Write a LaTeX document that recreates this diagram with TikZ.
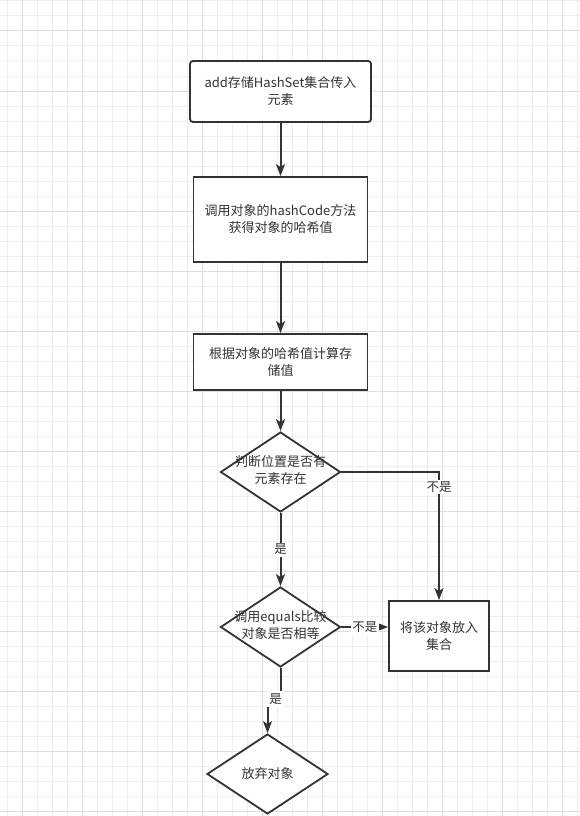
\documentclass[tikz,border=0pt]{standalone}
\usepackage{fontspec}
\setmainfont{Noto Sans CJK SC}
\usetikzlibrary{arrows.meta}
\usetikzlibrary{shapes.geometric}
\usetikzlibrary{calc}

\begin{document}
\begin{tikzpicture}[x=1pt,y=-1pt]
      \definecolor{mygridlight}{HTML}{EFEFEF}
      \definecolor{mygriddark}{HTML}{DEDEDE}
      \definecolor{myline}{HTML}{333333}
      \colorlet{mytext}{black!80}
      \tikzset{>={Stealth[length=12pt,width=9pt,inset=3pt]}} % draw.io like arrow head

      \tikzset{
        box/.style={draw=myline,line width=1.8pt,fill=white,align=center,text=mytext,
          font=\fontsize{13}{17}\selectfont,inner sep=0pt},
        diam/.style={box,diamond,minimum width=120pt,minimum height=80pt},
        flow/.style={->,myline,line width=2pt},
        lbl/.style={fill=white,inner sep=1.5pt,text=mytext,font=\fontsize{12.5}{14}\selectfont}
      }

      % text of a diamond takes no width, so the diamond keeps its size
      \def\dtext#1{\makebox[0pt]{\begin{tabular}{@{}c@{}}#1\end{tabular}}}

      \useasboundingbox (0,0) rectangle (580,816);
      \fill[white] (0,0) rectangle (580,816);

      % GRID
      \foreach \x in {7,22,...,577}
        \draw[mygridlight,line width=1pt] (\x,0) -- (\x,816);
      \foreach \y in {1,16,...,811}
        \draw[mygridlight,line width=1pt] (0,\y) -- (580,\y);
      \foreach \x in {22,82,...,562}
        \draw[mygriddark,line width=1pt] (\x,0) -- (\x,816);
      \foreach \y in {31,91,...,811}
        \draw[mygriddark,line width=1pt] (0,\y) -- (580,\y);

      % STEPS
      \node[box,rounded corners=3pt,minimum width=181pt,minimum height=61pt] (add) at (280.5,91.5)
        {add存储HashSet集合传入\\元素};
      \node[box,minimum width=174pt,minimum height=85pt] (hash) at (280.5,219.5)
        {调用对象的hashCode方法\\获得对象的哈希值};
      \node[box,minimum width=174pt,minimum height=56pt] (calc) at (280.5,362)
        {根据对象的哈希值计算存\\储值};
      \node[diam] (check) at (280.5,472) {\dtext{判断位置是否有\\元素存在}};
      \node[diam] (equal) at (280.5,627) {\dtext{调用equals比较\\对象是否相等}};
      \node[box,minimum width=100pt,minimum height=70pt] (put) at (439,636) {将该对象放入\\集合};
      \node[diam,minimum width=121pt] (drop) at (267.5,774) {放弃对象};

      % ARROWS
      \draw[flow] (add) -- (hash);
      \draw[flow] (hash) -- (calc);
      \draw[flow] (calc) -- (check);
      \draw[flow] (check.east) -| node[lbl,pos=0.56] (no1) {不是} (put.north);
      \draw[flow] (check) -- node[lbl] (yes1) {是} (equal);
      \draw[flow] (equal.east) -- node[lbl] (no2) {不是} (equal.east -| put.west);
      \draw[flow] (equal.south) -- ++(0,30) coordinate (jog) -| (drop.north);
      \node[lbl,inner sep=2.5pt] (yes2) at ($(jog)+(-5,1)$) {是};

\end{tikzpicture}
\end{document}
